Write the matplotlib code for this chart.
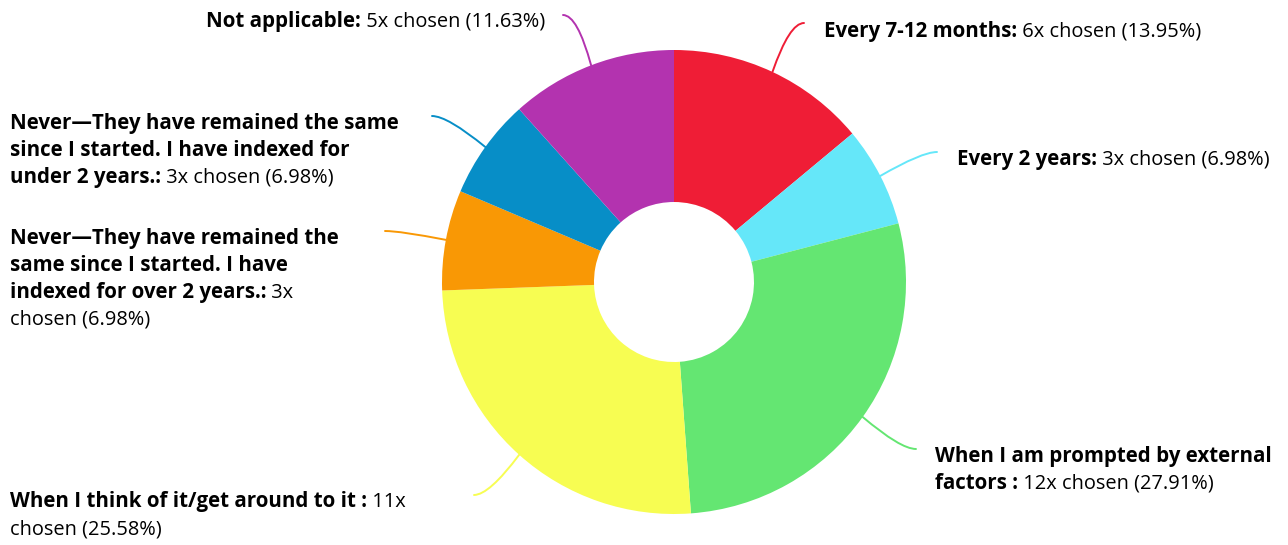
import numpy as np
import matplotlib
matplotlib.use("Agg")
import matplotlib.pyplot as plt
from matplotlib.path import Path
from matplotlib.patches import PathPatch

plt.rcParams['font.family'] = ['Open Sans', 'DejaVu Sans']

# Survey answers, counts, and slice colours (clockwise from 12 o'clock)
categories = [
    "Every 7-12 months",
    "Every 2 years",
    "When I am prompted by external factors",
    "When I think of it/get around to it",
    "Never—They have remained the same since I started. I have indexed for over 2 years.",
    "Never—They have remained the same since I started. I have indexed for under 2 years.",
    "Not applicable",
]
counts = [6, 3, 12, 11, 3, 3, 5]
colors = ["#EF1D36", "#65E7F9", "#64E672", "#F7FD52", "#F99805", "#078EC7", "#B333AF"]

# Label text per slice; *...* marks the bold part, {n}/{p} are filled from the counts
label_lines = [
    ["*Every 7-12 months:* {n}x chosen ({p})"],
    ["*Every 2 years:* {n}x chosen ({p})"],
    ["*When I am prompted by external*", "*factors :* {n}x chosen ({p})"],
    ["*When I think of it/get around to it :* {n}x", "chosen ({p})"],
    ["*Never—They have remained the*", "*same since I started. I have*",
     "*indexed for over 2 years.:* {n}x", "chosen ({p})"],
    ["*Never—They have remained the same*", "*since I started. I have indexed for*",
     "*under 2 years.:* {n}x chosen ({p})"],
    ["*Not applicable:* {n}x chosen ({p})"],
]

# Layout (pixel coordinates, y measured from the top)
W, H = 1288, 545
CX, CY = 674, 282
R_OUT, R_IN = 232, 80
FS_REG = 14.45
FS_BOLD = 14.8
LINE_H = 27
# connector end point, text anchor x, alignment, first-line centre y
label_layout = [
    ((804, 23), 824, "left", 30),
    ((937, 152), 957, "left", 158),
    ((916, 449), 935, "left", 455),
    ((474, 495), 10, "left", 500),
    ((385, 231), 10, "left", 237),
    ((432, 116), 10, "left", 122),
    ((563, 15), 545, "right", 20),
]

fig = plt.figure(figsize=(W / 100, H / 100), dpi=100)
ax = fig.add_axes([0, 0, 1, 1])


def fy(y):
    return H - y


ax.pie(counts, colors=colors, startangle=90, counterclock=False,
       radius=R_OUT, center=(CX, fy(CY)),
       wedgeprops=dict(width=R_OUT - R_IN, linewidth=0, antialiased=True))
ax.set_xlim(0, W)
ax.set_ylim(0, H)
ax.set_aspect("auto")
ax.axis("off")

renderer = fig.canvas.get_renderer()
total = sum(counts)


def segments(line, n, p):
    parts = line.format(n=n, p=p).split("*")
    out = []
    for i, part in enumerate(parts):
        if part:
            out.append((part, "bold" if i % 2 == 1 else "normal"))
    return out


def draw_line(x, yc, segs, ha):
    base = fy(yc + 7)
    texts = []
    widths = []
    for s, w in segs:
        t = ax.text(0, base, s, fontsize=FS_BOLD if w == "bold" else FS_REG,
                    fontweight=w, va="baseline", ha="left", color="#000000")
        texts.append(t)
        widths.append(t.get_window_extent(renderer).width)
    total_w = sum(widths)
    start = x if ha == "left" else x - total_w
    for t, w in zip(texts, widths):
        t.set_x(start)
        start += w


cum = 0
for n, col, lines, (end, tx, ha, y0) in zip(counts, colors, label_lines, label_layout):
    mid = (cum + n / 2) / total * 2 * np.pi
    cum += n
    dx, dy = np.sin(mid), -np.cos(mid)  # image-space direction
    sx, sy = CX + R_OUT * dx, CY + R_OUT * dy
    ex, ey = end
    side = 1 if ex > CX else -1
    dist = np.hypot(ex - sx, ey - sy)
    ctrl = (ex - side * dist * 0.25, ey)
    verts = [(sx, fy(sy)), (ctrl[0], fy(ctrl[1])), (ex, fy(ey))]
    path = Path(verts, [Path.MOVETO, Path.CURVE3, Path.CURVE3])
    ax.add_patch(PathPatch(path, fill=False, edgecolor=col, lw=1.4,
                           capstyle="round"))

    p = f"{n / total * 100:.2f}%"
    for i, line in enumerate(lines):
        draw_line(tx, y0 + i * LINE_H, segments(line, n, p), ha)

fig.savefig("out.png", dpi=100, facecolor="white")
